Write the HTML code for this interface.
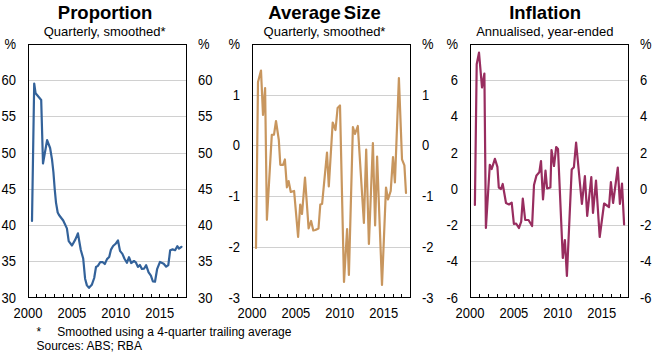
<!DOCTYPE html><html><head><meta charset="utf-8"><style>html,body{margin:0;padding:0;background:#fff;width:656px;height:354px;overflow:hidden}svg{display:block}text{font-family:"Liberation Sans",sans-serif;fill:#000}</style></head><body>
<svg width="656" height="354" viewBox="0 0 656 354">
<line x1="28" y1="261.5" x2="186" y2="261.5" stroke="#d0d0d0" stroke-width="1"/>
<line x1="28" y1="225.5" x2="186" y2="225.5" stroke="#d0d0d0" stroke-width="1"/>
<line x1="28" y1="189.5" x2="186" y2="189.5" stroke="#d0d0d0" stroke-width="1"/>
<line x1="28" y1="153.5" x2="186" y2="153.5" stroke="#d0d0d0" stroke-width="1"/>
<line x1="28" y1="116.5" x2="186" y2="116.5" stroke="#d0d0d0" stroke-width="1"/>
<line x1="28" y1="80.5" x2="186" y2="80.5" stroke="#d0d0d0" stroke-width="1"/>
<line x1="36.5" y1="294" x2="36.5" y2="297" stroke="#000" stroke-width="1"/>
<line x1="45.5" y1="294" x2="45.5" y2="297" stroke="#000" stroke-width="1"/>
<line x1="54.5" y1="294" x2="54.5" y2="297" stroke="#000" stroke-width="1"/>
<line x1="63.5" y1="294" x2="63.5" y2="297" stroke="#000" stroke-width="1"/>
<line x1="72.5" y1="294" x2="72.5" y2="297" stroke="#000" stroke-width="1"/>
<line x1="80.5" y1="294" x2="80.5" y2="297" stroke="#000" stroke-width="1"/>
<line x1="89.5" y1="294" x2="89.5" y2="297" stroke="#000" stroke-width="1"/>
<line x1="98.5" y1="294" x2="98.5" y2="297" stroke="#000" stroke-width="1"/>
<line x1="107.5" y1="294" x2="107.5" y2="297" stroke="#000" stroke-width="1"/>
<line x1="115.5" y1="294" x2="115.5" y2="297" stroke="#000" stroke-width="1"/>
<line x1="124.5" y1="294" x2="124.5" y2="297" stroke="#000" stroke-width="1"/>
<line x1="133.5" y1="294" x2="133.5" y2="297" stroke="#000" stroke-width="1"/>
<line x1="142.5" y1="294" x2="142.5" y2="297" stroke="#000" stroke-width="1"/>
<line x1="151.5" y1="294" x2="151.5" y2="297" stroke="#000" stroke-width="1"/>
<line x1="159.5" y1="294" x2="159.5" y2="297" stroke="#000" stroke-width="1"/>
<line x1="168.5" y1="294" x2="168.5" y2="297" stroke="#000" stroke-width="1"/>
<line x1="177.5" y1="294" x2="177.5" y2="297" stroke="#000" stroke-width="1"/>
<polyline points="32.0,221.0 34.2,83.5 35.6,93.3 41.2,100.0 43.0,163.5 47.1,140.2 50.1,148.0 52.0,159.4 53.4,172.0 54.7,189.0 56.0,202.6 57.7,212.5 59.0,215.0 63.2,220.5 66.9,228.4 68.7,241.2 72.0,245.5 75.4,239.4 77.9,233.3 80.8,250.0 83.2,258.5 85.1,278.7 86.9,285.4 89.0,287.8 91.8,284.8 94.2,278.0 96.0,267.0 97.9,265.9 100.3,262.0 102.8,262.2 104.8,264.0 107.0,259.1 109.2,257.0 111.0,249.6 113.1,246.0 115.9,243.5 118.0,240.5 120.0,250.9 122.4,253.9 124.5,258.8 126.9,262.8 129.0,257.2 131.2,263.0 134.0,261.0 135.8,262.3 137.9,266.9 139.9,265.0 141.9,268.9 144.0,268.7 146.1,265.2 148.6,272.4 150.9,275.6 152.9,281.5 155.0,281.7 157.1,269.2 160.0,261.9 163.7,263.7 166.2,266.7 168.3,265.1 170.2,250.2 172.6,249.4 175.1,250.2 177.3,246.2 179.0,248.7 181.4,246.8" fill="none" stroke="#33629a" stroke-width="2.2" stroke-linejoin="round" stroke-linecap="round"/>
<rect x="28.5" y="44.5" width="158" height="253" fill="none" stroke="#000" stroke-width="1"/>
<text x="105.1" y="19" text-anchor="middle" font-size="18.5" font-weight="bold">Proportion</text>
<text x="104.7" y="36" text-anchor="middle" font-size="13">Quarterly, smoothed*</text>
<text x="16" y="303" text-anchor="end" font-size="13" transform="translate(0 303) scale(1 1.075) translate(0 -303)">30</text>
<text x="198" y="303" text-anchor="start" font-size="13" transform="translate(0 303) scale(1 1.075) translate(0 -303)">30</text>
<text x="16" y="266" text-anchor="end" font-size="13" transform="translate(0 266) scale(1 1.075) translate(0 -266)">35</text>
<text x="198" y="266" text-anchor="start" font-size="13" transform="translate(0 266) scale(1 1.075) translate(0 -266)">35</text>
<text x="16" y="230" text-anchor="end" font-size="13" transform="translate(0 230) scale(1 1.075) translate(0 -230)">40</text>
<text x="198" y="230" text-anchor="start" font-size="13" transform="translate(0 230) scale(1 1.075) translate(0 -230)">40</text>
<text x="16" y="194" text-anchor="end" font-size="13" transform="translate(0 194) scale(1 1.075) translate(0 -194)">45</text>
<text x="198" y="194" text-anchor="start" font-size="13" transform="translate(0 194) scale(1 1.075) translate(0 -194)">45</text>
<text x="16" y="158" text-anchor="end" font-size="13" transform="translate(0 158) scale(1 1.075) translate(0 -158)">50</text>
<text x="198" y="158" text-anchor="start" font-size="13" transform="translate(0 158) scale(1 1.075) translate(0 -158)">50</text>
<text x="16" y="121" text-anchor="end" font-size="13" transform="translate(0 121) scale(1 1.075) translate(0 -121)">55</text>
<text x="198" y="121" text-anchor="start" font-size="13" transform="translate(0 121) scale(1 1.075) translate(0 -121)">55</text>
<text x="16" y="85" text-anchor="end" font-size="13" transform="translate(0 85) scale(1 1.075) translate(0 -85)">60</text>
<text x="198" y="85" text-anchor="start" font-size="13" transform="translate(0 85) scale(1 1.075) translate(0 -85)">60</text>
<text x="16" y="49" text-anchor="end" font-size="13" transform="translate(0 49) scale(1 1.075) translate(0 -49)">%</text>
<text x="198" y="49" text-anchor="start" font-size="13" transform="translate(0 49) scale(1 1.075) translate(0 -49)">%</text>
<text x="28.0" y="318" text-anchor="middle" font-size="13" transform="translate(0 318) scale(1 1.075) translate(0 -318)">2000</text>
<text x="71.9" y="318" text-anchor="middle" font-size="13" transform="translate(0 318) scale(1 1.075) translate(0 -318)">2005</text>
<text x="115.8" y="318" text-anchor="middle" font-size="13" transform="translate(0 318) scale(1 1.075) translate(0 -318)">2010</text>
<text x="159.7" y="318" text-anchor="middle" font-size="13" transform="translate(0 318) scale(1 1.075) translate(0 -318)">2015</text>
<line x1="252" y1="247.5" x2="410" y2="247.5" stroke="#d0d0d0" stroke-width="1"/>
<line x1="252" y1="196.5" x2="410" y2="196.5" stroke="#d0d0d0" stroke-width="1"/>
<line x1="252" y1="145.5" x2="410" y2="145.5" stroke="#d0d0d0" stroke-width="1"/>
<line x1="252" y1="95.5" x2="410" y2="95.5" stroke="#d0d0d0" stroke-width="1"/>
<line x1="260.5" y1="294" x2="260.5" y2="297" stroke="#000" stroke-width="1"/>
<line x1="269.5" y1="294" x2="269.5" y2="297" stroke="#000" stroke-width="1"/>
<line x1="278.5" y1="294" x2="278.5" y2="297" stroke="#000" stroke-width="1"/>
<line x1="287.5" y1="294" x2="287.5" y2="297" stroke="#000" stroke-width="1"/>
<line x1="296.5" y1="294" x2="296.5" y2="297" stroke="#000" stroke-width="1"/>
<line x1="305.5" y1="294" x2="305.5" y2="297" stroke="#000" stroke-width="1"/>
<line x1="313.5" y1="294" x2="313.5" y2="297" stroke="#000" stroke-width="1"/>
<line x1="322.5" y1="294" x2="322.5" y2="297" stroke="#000" stroke-width="1"/>
<line x1="331.5" y1="294" x2="331.5" y2="297" stroke="#000" stroke-width="1"/>
<line x1="340.5" y1="294" x2="340.5" y2="297" stroke="#000" stroke-width="1"/>
<line x1="349.5" y1="294" x2="349.5" y2="297" stroke="#000" stroke-width="1"/>
<line x1="357.5" y1="294" x2="357.5" y2="297" stroke="#000" stroke-width="1"/>
<line x1="366.5" y1="294" x2="366.5" y2="297" stroke="#000" stroke-width="1"/>
<line x1="375.5" y1="294" x2="375.5" y2="297" stroke="#000" stroke-width="1"/>
<line x1="384.5" y1="294" x2="384.5" y2="297" stroke="#000" stroke-width="1"/>
<line x1="393.5" y1="294" x2="393.5" y2="297" stroke="#000" stroke-width="1"/>
<line x1="401.5" y1="294" x2="401.5" y2="297" stroke="#000" stroke-width="1"/>
<polyline points="256.0,248.0 258.0,82.0 261.0,70.5 263.0,115.0 265.1,88.0 266.9,219.8 271.8,134.9 274.0,134.6 276.0,121.0 278.8,139.8 280.3,164.8 283.1,164.8 284.9,159.5 286.9,187.3 288.6,181.0 290.8,192.0 294.1,191.0 298.1,237.0 300.2,204.5 302.0,214.0 305.0,177.5 308.6,228.3 311.1,221.0 313.3,230.5 315.4,230.0 318.5,228.5 320.3,204.5 322.1,204.0 327.0,152.5 328.8,186.5 332.7,122.5 335.5,130.0 337.6,108.0 340.0,105.5 344.0,282.0 347.1,229.0 348.9,275.0 352.9,127.0 355.0,134.0 357.8,126.0 363.9,223.0 366.2,149.5 368.9,244.0 372.9,143.0 375.1,225.5 377.1,156.5 382.0,285.0 386.0,187.5 388.0,199.5 390.7,191.0 393.0,157.0 394.9,182.5 398.9,78.0 402.0,159.3 404.4,165.4 406.0,193.0" fill="none" stroke="#c8965e" stroke-width="2.2" stroke-linejoin="round" stroke-linecap="round"/>
<rect x="252.5" y="44.5" width="158" height="253" fill="none" stroke="#000" stroke-width="1"/>
<text x="324.6" y="19" text-anchor="middle" font-size="18.5" font-weight="bold" word-spacing="-2">Average Size</text>
<text x="324.5" y="36" text-anchor="middle" font-size="13">Quarterly, smoothed*</text>
<text x="240" y="303" text-anchor="end" font-size="13" transform="translate(0 303) scale(1 1.075) translate(0 -303)">-3</text>
<text x="422" y="303" text-anchor="start" font-size="13" transform="translate(0 303) scale(1 1.075) translate(0 -303)">-3</text>
<text x="240" y="252" text-anchor="end" font-size="13" transform="translate(0 252) scale(1 1.075) translate(0 -252)">-2</text>
<text x="422" y="252" text-anchor="start" font-size="13" transform="translate(0 252) scale(1 1.075) translate(0 -252)">-2</text>
<text x="240" y="201" text-anchor="end" font-size="13" transform="translate(0 201) scale(1 1.075) translate(0 -201)">-1</text>
<text x="422" y="201" text-anchor="start" font-size="13" transform="translate(0 201) scale(1 1.075) translate(0 -201)">-1</text>
<text x="240" y="150" text-anchor="end" font-size="13" transform="translate(0 150) scale(1 1.075) translate(0 -150)">0</text>
<text x="422" y="150" text-anchor="start" font-size="13" transform="translate(0 150) scale(1 1.075) translate(0 -150)">0</text>
<text x="240" y="100" text-anchor="end" font-size="13" transform="translate(0 100) scale(1 1.075) translate(0 -100)">1</text>
<text x="422" y="100" text-anchor="start" font-size="13" transform="translate(0 100) scale(1 1.075) translate(0 -100)">1</text>
<text x="240" y="49" text-anchor="end" font-size="13" transform="translate(0 49) scale(1 1.075) translate(0 -49)">%</text>
<text x="422" y="49" text-anchor="start" font-size="13" transform="translate(0 49) scale(1 1.075) translate(0 -49)">%</text>
<text x="252.0" y="318" text-anchor="middle" font-size="13" transform="translate(0 318) scale(1 1.075) translate(0 -318)">2000</text>
<text x="295.9" y="318" text-anchor="middle" font-size="13" transform="translate(0 318) scale(1 1.075) translate(0 -318)">2005</text>
<text x="339.8" y="318" text-anchor="middle" font-size="13" transform="translate(0 318) scale(1 1.075) translate(0 -318)">2010</text>
<text x="383.7" y="318" text-anchor="middle" font-size="13" transform="translate(0 318) scale(1 1.075) translate(0 -318)">2015</text>
<line x1="470" y1="261.5" x2="628" y2="261.5" stroke="#d0d0d0" stroke-width="1"/>
<line x1="470" y1="225.5" x2="628" y2="225.5" stroke="#d0d0d0" stroke-width="1"/>
<line x1="470" y1="189.5" x2="628" y2="189.5" stroke="#d0d0d0" stroke-width="1"/>
<line x1="470" y1="153.5" x2="628" y2="153.5" stroke="#d0d0d0" stroke-width="1"/>
<line x1="470" y1="116.5" x2="628" y2="116.5" stroke="#d0d0d0" stroke-width="1"/>
<line x1="470" y1="80.5" x2="628" y2="80.5" stroke="#d0d0d0" stroke-width="1"/>
<line x1="479.5" y1="294" x2="479.5" y2="297" stroke="#000" stroke-width="1"/>
<line x1="488.5" y1="294" x2="488.5" y2="297" stroke="#000" stroke-width="1"/>
<line x1="497.5" y1="294" x2="497.5" y2="297" stroke="#000" stroke-width="1"/>
<line x1="506.5" y1="294" x2="506.5" y2="297" stroke="#000" stroke-width="1"/>
<line x1="514.5" y1="294" x2="514.5" y2="297" stroke="#000" stroke-width="1"/>
<line x1="523.5" y1="294" x2="523.5" y2="297" stroke="#000" stroke-width="1"/>
<line x1="532.5" y1="294" x2="532.5" y2="297" stroke="#000" stroke-width="1"/>
<line x1="541.5" y1="294" x2="541.5" y2="297" stroke="#000" stroke-width="1"/>
<line x1="549.5" y1="294" x2="549.5" y2="297" stroke="#000" stroke-width="1"/>
<line x1="558.5" y1="294" x2="558.5" y2="297" stroke="#000" stroke-width="1"/>
<line x1="567.5" y1="294" x2="567.5" y2="297" stroke="#000" stroke-width="1"/>
<line x1="576.5" y1="294" x2="576.5" y2="297" stroke="#000" stroke-width="1"/>
<line x1="585.5" y1="294" x2="585.5" y2="297" stroke="#000" stroke-width="1"/>
<line x1="593.5" y1="294" x2="593.5" y2="297" stroke="#000" stroke-width="1"/>
<line x1="602.5" y1="294" x2="602.5" y2="297" stroke="#000" stroke-width="1"/>
<line x1="611.5" y1="294" x2="611.5" y2="297" stroke="#000" stroke-width="1"/>
<line x1="620.5" y1="294" x2="620.5" y2="297" stroke="#000" stroke-width="1"/>
<polyline points="474.9,205.0 476.7,64.3 479.0,52.7 482.0,87.5 484.4,73.5 485.9,228.0 489.8,164.8 491.7,169.0 494.9,158.8 497.4,166.8 498.8,187.5 501.0,189.0 502.7,184.0 506.0,203.0 509.0,204.5 511.7,202.6 513.9,224.0 516.1,223.5 518.9,228.0 521.2,221.7 522.8,198.5 525.2,220.0 528.5,220.0 532.1,226.0 534.0,185.0 536.5,175.4 539.3,172.3 541.0,161.0 543.0,199.5 545.5,170.5 547.1,188.5 550.4,187.5 551.5,150.0 554.0,166.0 556.2,147.0 558.0,149.0 562.8,258.0 564.9,240.0 566.9,276.0 571.7,169.6 573.9,167.2 576.1,142.5 581.9,204.0 584.9,176.0 587.2,216.0 591.3,177.0 593.0,213.0 596.0,180.5 599.7,237.0 604.1,203.5 609.0,207.0 610.9,182.0 613.1,203.0 617.8,167.5 619.9,204.0 622.0,183.5 624.1,224.5" fill="none" stroke="#982d5f" stroke-width="2.2" stroke-linejoin="round" stroke-linecap="round"/>
<rect x="470.5" y="44.5" width="158" height="253" fill="none" stroke="#000" stroke-width="1"/>
<text x="545.1" y="19" text-anchor="middle" font-size="18.5" font-weight="bold">Inflation</text>
<text x="544.8" y="36" text-anchor="middle" font-size="13">Annualised, year-ended</text>
<text x="458" y="303" text-anchor="end" font-size="13" transform="translate(0 303) scale(1 1.075) translate(0 -303)">-6</text>
<text x="640" y="303" text-anchor="start" font-size="13" transform="translate(0 303) scale(1 1.075) translate(0 -303)">-6</text>
<text x="458" y="266" text-anchor="end" font-size="13" transform="translate(0 266) scale(1 1.075) translate(0 -266)">-4</text>
<text x="640" y="266" text-anchor="start" font-size="13" transform="translate(0 266) scale(1 1.075) translate(0 -266)">-4</text>
<text x="458" y="230" text-anchor="end" font-size="13" transform="translate(0 230) scale(1 1.075) translate(0 -230)">-2</text>
<text x="640" y="230" text-anchor="start" font-size="13" transform="translate(0 230) scale(1 1.075) translate(0 -230)">-2</text>
<text x="458" y="194" text-anchor="end" font-size="13" transform="translate(0 194) scale(1 1.075) translate(0 -194)">0</text>
<text x="640" y="194" text-anchor="start" font-size="13" transform="translate(0 194) scale(1 1.075) translate(0 -194)">0</text>
<text x="458" y="158" text-anchor="end" font-size="13" transform="translate(0 158) scale(1 1.075) translate(0 -158)">2</text>
<text x="640" y="158" text-anchor="start" font-size="13" transform="translate(0 158) scale(1 1.075) translate(0 -158)">2</text>
<text x="458" y="121" text-anchor="end" font-size="13" transform="translate(0 121) scale(1 1.075) translate(0 -121)">4</text>
<text x="640" y="121" text-anchor="start" font-size="13" transform="translate(0 121) scale(1 1.075) translate(0 -121)">4</text>
<text x="458" y="85" text-anchor="end" font-size="13" transform="translate(0 85) scale(1 1.075) translate(0 -85)">6</text>
<text x="640" y="85" text-anchor="start" font-size="13" transform="translate(0 85) scale(1 1.075) translate(0 -85)">6</text>
<text x="458" y="49" text-anchor="end" font-size="13" transform="translate(0 49) scale(1 1.075) translate(0 -49)">%</text>
<text x="640" y="49" text-anchor="start" font-size="13" transform="translate(0 49) scale(1 1.075) translate(0 -49)">%</text>
<text x="470.0" y="318" text-anchor="middle" font-size="13" transform="translate(0 318) scale(1 1.075) translate(0 -318)">2000</text>
<text x="513.9" y="318" text-anchor="middle" font-size="13" transform="translate(0 318) scale(1 1.075) translate(0 -318)">2005</text>
<text x="557.8" y="318" text-anchor="middle" font-size="13" transform="translate(0 318) scale(1 1.075) translate(0 -318)">2010</text>
<text x="601.7" y="318" text-anchor="middle" font-size="13" transform="translate(0 318) scale(1 1.075) translate(0 -318)">2015</text>
<text x="36.5" y="336" font-size="12">*</text>
<text x="57.3" y="336" font-size="12">Smoothed using a 4-quarter trailing average</text>
<text x="36.5" y="350" font-size="12">Sources: ABS; RBA</text>
</svg></body></html>
